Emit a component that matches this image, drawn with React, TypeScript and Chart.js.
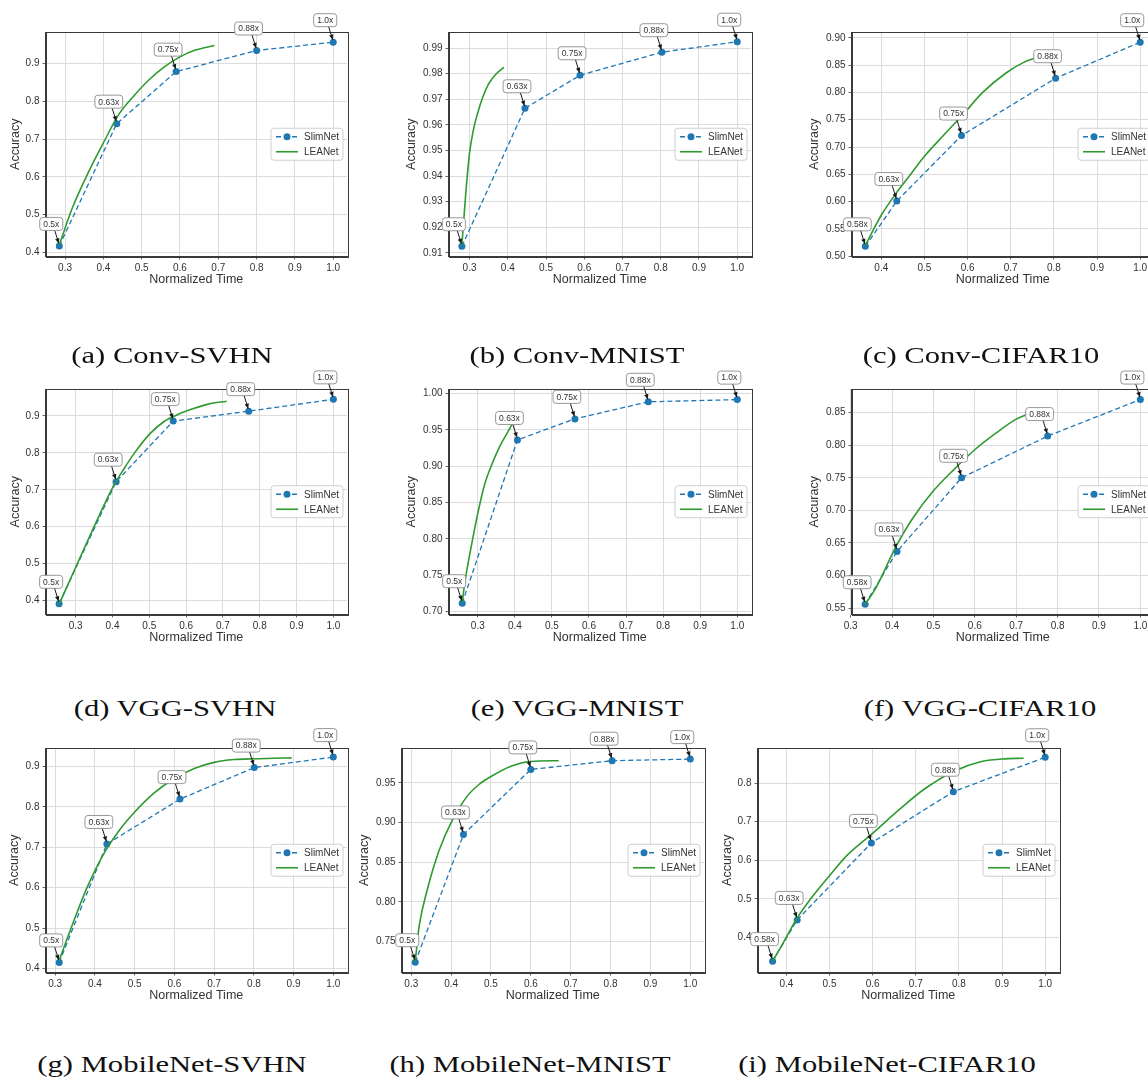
import React, { useEffect, useRef } from 'react';
import { Chart, registerables } from 'chart.js';

Chart.register(...registerables);

// ---------- data ----------
const labelsStd = ['0.5x', '0.63x', '0.75x', '0.88x', '1.0x'];
const labelsCifar = ['0.58x', '0.63x', '0.75x', '0.88x', '1.0x'];
const captions = [
  '(a) Conv-SVHN', '(b) Conv-MNIST', '(c) Conv-CIFAR10',
  '(d) VGG-SVHN', '(e) VGG-MNIST', '(f) VGG-CIFAR10',
  '(g) MobileNet-SVHN', '(h) MobileNet-MNIST', '(i) MobileNet-CIFAR10',
];
const seriesNames = ['SlimNet', 'LEANet'];
const xLabel = 'Normalized Time';
const yLabel = 'Accuracy';

const xTicksFrom03 = [0.3, 0.4, 0.5, 0.6, 0.7, 0.8, 0.9, 1.0];
const xTicksFrom04 = [0.4, 0.5, 0.6, 0.7, 0.8, 0.9, 1.0];
const yTicksTenths = [0.4, 0.5, 0.6, 0.7, 0.8, 0.9];

// (a) Conv-SVHN
const aSlimX = [0.285, 0.435, 0.59, 0.80, 1.0];
const aSlimY = [0.417, 0.741, 0.879, 0.935, 0.957];
const aLeanX = [0.285, 0.32, 0.36, 0.40, 0.44, 0.48, 0.52, 0.56, 0.60, 0.64, 0.69];
const aLeanY = [0.42, 0.52, 0.61, 0.69, 0.765, 0.815, 0.858, 0.892, 0.918, 0.936, 0.948];
// (b) Conv-MNIST
const bSlimX = [0.28, 0.445, 0.589, 0.803, 1.0];
const bSlimY = [0.9126, 0.9665, 0.9794, 0.9884, 0.9925];
const bLeanX = [0.28, 0.285, 0.29, 0.30, 0.31, 0.32, 0.335, 0.35, 0.37, 0.39];
const bLeanY = [0.913, 0.923, 0.933, 0.949, 0.958, 0.964, 0.971, 0.976, 0.980, 0.9825];
const bYTicks = [0.91, 0.92, 0.93, 0.94, 0.95, 0.96, 0.97, 0.98, 0.99];
// (c) Conv-CIFAR10
const cSlimX = [0.363, 0.436, 0.586, 0.804, 1.0];
const cSlimY = [0.518, 0.601, 0.721, 0.826, 0.892];
const cLeanX = [0.363, 0.40, 0.436, 0.47, 0.50, 0.545, 0.59, 0.635, 0.69, 0.73, 0.76];
const cLeanY = [0.52, 0.575, 0.617, 0.652, 0.683, 0.722, 0.76, 0.80, 0.836, 0.855, 0.864];
const cYTicks = [0.5, 0.55, 0.6, 0.65, 0.7, 0.75, 0.8, 0.85, 0.9];
// (d) VGG-SVHN
const dSlimX = [0.255, 0.41, 0.565, 0.77, 1.0];
const dSlimY = [0.391, 0.722, 0.886, 0.913, 0.945];
const dLeanX = [0.255, 0.30, 0.35, 0.40, 0.43, 0.46, 0.50, 0.54, 0.58, 0.62, 0.66, 0.71];
const dLeanY = [0.39, 0.49, 0.60, 0.705, 0.755, 0.80, 0.85, 0.885, 0.905, 0.92, 0.932, 0.94];
// (e) VGG-MNIST
const eSlimX = [0.258, 0.407, 0.562, 0.76, 1.0];
const eSlimY = [0.7115, 0.936, 0.965, 0.9885, 0.9915];
const eLeanX = [0.258, 0.265, 0.278, 0.29, 0.30, 0.318, 0.34, 0.36, 0.38, 0.395];
const eLeanY = [0.712, 0.74, 0.778, 0.81, 0.835, 0.874, 0.905, 0.928, 0.946, 0.96];
const eYTicks = [0.7, 0.75, 0.8, 0.85, 0.9, 0.95, 1.0];
// (f) VGG-CIFAR10
const fSlimX = [0.335, 0.412, 0.568, 0.776, 1.0];
const fSlimY = [0.556, 0.637, 0.750, 0.814, 0.870];
const fLeanX = [0.335, 0.36, 0.41, 0.45, 0.50, 0.55, 0.60, 0.65, 0.70, 0.73];
const fLeanY = [0.556, 0.58, 0.645, 0.688, 0.73, 0.763, 0.793, 0.818, 0.84, 0.848];
const fYTicks = [0.55, 0.6, 0.65, 0.7, 0.75, 0.8, 0.85];
// (g) MobileNet-SVHN
const gSlimX = [0.31, 0.43, 0.614, 0.801, 1.0];
const gSlimY = [0.415, 0.708, 0.819, 0.897, 0.923];
const gLeanX = [0.31, 0.34, 0.38, 0.42, 0.46, 0.50, 0.55, 0.60, 0.65, 0.70, 0.75, 0.80, 0.85, 0.895];
const gLeanY = [0.42, 0.50, 0.60, 0.68, 0.74, 0.787, 0.835, 0.87, 0.895, 0.91, 0.917, 0.919, 0.92, 0.921];
// (h) MobileNet-MNIST
const hSlimX = [0.31, 0.431, 0.60, 0.804, 1.0];
const hSlimY = [0.724, 0.885, 0.967, 0.978, 0.980];
const hLeanX = [0.31, 0.32, 0.34, 0.37, 0.40, 0.44, 0.47, 0.50, 0.55, 0.60, 0.67];
const hLeanY = [0.725, 0.77, 0.815, 0.865, 0.90, 0.933, 0.948, 0.958, 0.971, 0.977, 0.978];
const hYTicks = [0.75, 0.8, 0.85, 0.9, 0.95];
// (i) MobileNet-CIFAR10
const iSlimX = [0.368, 0.425, 0.597, 0.787, 1.0];
const iSlimY = [0.338, 0.445, 0.645, 0.778, 0.8675];
const iLeanX = [0.368, 0.39, 0.425, 0.46, 0.50, 0.54, 0.60, 0.66, 0.72, 0.79, 0.85, 0.90, 0.95];
const iLeanY = [0.338, 0.38, 0.45, 0.505, 0.56, 0.612, 0.67, 0.73, 0.785, 0.832, 0.856, 0.863, 0.865];
const iYTicks = [0.4, 0.5, 0.6, 0.7, 0.8];

// axis ranges [xMin, xMax, yMin, yMax]
const ranges = [
  [0.249, 1.036, 0.389, 0.984],
  [0.245, 1.036, 0.9086, 0.9963],
  [0.331, 1.032, 0.4994, 0.9107],
  [0.218, 1.037, 0.362, 0.973],
  [0.221, 1.037, 0.696, 1.0061],
  [0.302, 1.033, 0.5403, 0.8862],
  [0.2755, 1.0345, 0.39, 0.9455],
  [0.2755, 1.0345, 0.711, 0.994],
  [0.333, 1.032, 0.3085, 0.8915],
];

// ---------- layout ----------
// plot area [left, top, width, height], y-title offset
const plotBoxes = [
  [45, 32, 301, 224], [448, 32, 302, 224], [851, 32, 302, 224],
  [45, 389, 301, 225], [448, 389, 302, 225], [851, 389, 302, 225],
  [45, 748, 301, 224], [401, 748, 302, 224], [757, 748, 301, 224],
];
const yTitleOffsets = [30, 37, 37, 30, 37, 37, 31, 37, 30];
const captionCenters = [172, 577, 981, 175, 577, 980, 172, 530, 887];
const captionBaselines = [363, 363, 363, 716, 716, 716, 1072, 1072, 1072];

const FONT = '"Liberation Sans", Arial, sans-serif';
const TEXT = '#333333';
const BLUE = '#1f77b4';
const GREEN = '#2f9a2f';
const GRID = '#d8d8d8';
const PAD_L = 2, PAD_T = 26, PAD_R = 10, PAD_B = 2;
const X_H = 30.5;
const TITLE_LH = 15;

function rr(ctx: CanvasRenderingContext2D, x: number, y: number, w: number, h: number, r: number) {
  ctx.beginPath();
  ctx.moveTo(x + r, y);
  ctx.lineTo(x + w - r, y);
  ctx.quadraticCurveTo(x + w, y, x + w, y + r);
  ctx.lineTo(x + w, y + h - r);
  ctx.quadraticCurveTo(x + w, y + h, x + w - r, y + h);
  ctx.lineTo(x + r, y + h);
  ctx.quadraticCurveTo(x, y + h, x, y + h - r);
  ctx.lineTo(x, y + r);
  ctx.quadraticCurveTo(x, y, x + r, y);
  ctx.closePath();
}

const framePlugin = {
  id: 'frame',
  afterDatasetsDraw(chart: any) {
    const { ctx, chartArea: a } = chart;
    ctx.save();
    ctx.strokeStyle = '#3a3a3a';
    ctx.lineWidth = 1;
    ctx.strokeRect(Math.round(a.left) + 0.5, Math.round(a.top) + 0.5, Math.round(a.right - a.left), Math.round(a.bottom - a.top));
    ctx.restore();
  },
};

const boxLegendPlugin = {
  id: 'boxLegend',
  afterDraw(chart: any) {
    const { ctx, chartArea: a } = chart;
    const ds = chart.data.datasets;
    const bw = 72, bh = 32;
    const x0 = a.right - 4 - bw;
    const yc = (a.top + a.bottom) / 2;
    ctx.save();
    rr(ctx, x0, yc - bh / 2, bw, bh, 3);
    ctx.fillStyle = 'rgba(255,255,255,0.85)';
    ctx.fill();
    ctx.strokeStyle = '#cfcfcf';
    ctx.lineWidth = 1;
    ctx.stroke();
    ds.forEach((d: any, i: number) => {
      const y = yc + (i === 0 ? -7.5 : 7.5);
      ctx.strokeStyle = d.borderColor;
      ctx.lineWidth = d.borderWidth;
      ctx.setLineDash(d.borderDash || []);
      ctx.beginPath();
      ctx.moveTo(x0 + 5, y);
      ctx.lineTo(x0 + 27, y);
      ctx.stroke();
      ctx.setLineDash([]);
      if (d.pointRadius > 0) {
        ctx.fillStyle = d.pointBackgroundColor;
        ctx.beginPath();
        ctx.arc(x0 + 16, y, d.pointRadius, 0, Math.PI * 2);
        ctx.fill();
      }
      ctx.fillStyle = TEXT;
      ctx.font = `10px ${FONT}`;
      ctx.textBaseline = 'middle';
      ctx.textAlign = 'left';
      ctx.fillText(d.label, x0 + 33, y + 0.5);
    });
    ctx.restore();
  },
};

const annotPlugin = {
  id: 'annot',
  afterDraw(chart: any, _args: any, opts: any) {
    const { ctx } = chart;
    const meta = chart.getDatasetMeta(0);
    const labels: string[] = (opts && opts.labels) || [];
    ctx.save();
    ctx.font = `8.5px ${FONT}`;
    meta.data.forEach((el: any, i: number) => {
      const text = labels[i];
      if (!text) return;
      const px = el.x, py = el.y;
      const bx = px - 8, by = py - 22;
      const tw = ctx.measureText(text).width;
      const bw = tw + 7, bh = 13;
      // arrow
      const ax0 = bx + 2, ay0 = by + 2;
      const ax1 = px - 0.5, ay1 = py - 2.5;
      ctx.strokeStyle = '#1a1a1a';
      ctx.fillStyle = '#1a1a1a';
      ctx.lineWidth = 1;
      ctx.beginPath();
      ctx.moveTo(ax0, ay0);
      ctx.lineTo(ax1, ay1);
      ctx.stroke();
      const ang = Math.atan2(ay1 - ay0, ax1 - ax0);
      const hl = 5, hw = 2.2;
      ctx.beginPath();
      ctx.moveTo(ax1, ay1);
      ctx.lineTo(ax1 - hl * Math.cos(ang) + hw * Math.sin(ang), ay1 - hl * Math.sin(ang) - hw * Math.cos(ang));
      ctx.lineTo(ax1 - hl * Math.cos(ang) - hw * Math.sin(ang), ay1 - hl * Math.sin(ang) + hw * Math.cos(ang));
      ctx.closePath();
      ctx.fill();
      // box
      rr(ctx, bx - bw / 2, by - bh / 2, bw, bh, 3);
      ctx.fillStyle = '#ffffff';
      ctx.fill();
      ctx.strokeStyle = '#8c8c8c';
      ctx.lineWidth = 0.9;
      ctx.stroke();
      ctx.fillStyle = TEXT;
      ctx.textAlign = 'center';
      ctx.textBaseline = 'middle';
      ctx.fillText(text, bx, by + 0.5);
    });
    ctx.restore();
  },
};

type PanelDef = {
  slimX: number[]; slimY: number[]; leanX: number[]; leanY: number[];
  xTicks: number[]; yTicks: number[]; yDec: number; labels: string[];
};

const panels: PanelDef[] = [
  { slimX: aSlimX, slimY: aSlimY, leanX: aLeanX, leanY: aLeanY, xTicks: xTicksFrom03, yTicks: yTicksTenths, yDec: 1, labels: labelsStd },
  { slimX: bSlimX, slimY: bSlimY, leanX: bLeanX, leanY: bLeanY, xTicks: xTicksFrom03, yTicks: bYTicks, yDec: 2, labels: labelsStd },
  { slimX: cSlimX, slimY: cSlimY, leanX: cLeanX, leanY: cLeanY, xTicks: xTicksFrom04, yTicks: cYTicks, yDec: 2, labels: labelsCifar },
  { slimX: dSlimX, slimY: dSlimY, leanX: dLeanX, leanY: dLeanY, xTicks: xTicksFrom03, yTicks: yTicksTenths, yDec: 1, labels: labelsStd },
  { slimX: eSlimX, slimY: eSlimY, leanX: eLeanX, leanY: eLeanY, xTicks: xTicksFrom03, yTicks: eYTicks, yDec: 2, labels: labelsStd },
  { slimX: fSlimX, slimY: fSlimY, leanX: fLeanX, leanY: fLeanY, xTicks: xTicksFrom03, yTicks: fYTicks, yDec: 2, labels: labelsCifar },
  { slimX: gSlimX, slimY: gSlimY, leanX: gLeanX, leanY: gLeanY, xTicks: xTicksFrom03, yTicks: yTicksTenths, yDec: 1, labels: labelsStd },
  { slimX: hSlimX, slimY: hSlimY, leanX: hLeanX, leanY: hLeanY, xTicks: xTicksFrom03, yTicks: hYTicks, yDec: 2, labels: labelsStd },
  { slimX: iSlimX, slimY: iSlimY, leanX: iLeanX, leanY: iLeanY, xTicks: xTicksFrom04, yTicks: iYTicks, yDec: 1, labels: labelsCifar },
];

function ChartPanel({ idx }: { idx: number }) {
  const ref = useRef<HTMLCanvasElement>(null);
  const p = panels[idx];
  const [pl, pt, pw, ph] = plotBoxes[idx];
  const yW = yTitleOffsets[idx] + TITLE_LH / 2;
  const W = Math.round(PAD_L + yW + pw + PAD_R);
  const H = Math.round(PAD_T + ph + X_H + PAD_B);
  const left = pl - yW - PAD_L;
  const top = pt - PAD_T;

  useEffect(() => {
    const [xMin, xMax, yMin, yMax] = ranges[idx];
    const tickFont = { family: FONT, size: 10 };
    const titleFont = { family: FONT, size: 12.5, lineHeight: TITLE_LH / 12.5 };
    const chart = new Chart(ref.current as HTMLCanvasElement, {
      type: 'line',
      data: {
        datasets: [
          {
            label: seriesNames[0],
            data: p.slimX.map((x, i) => ({ x, y: p.slimY[i] })),
            borderColor: BLUE,
            backgroundColor: BLUE,
            borderWidth: 1.3,
            borderDash: [5, 3],
            pointRadius: 3.5,
            pointBackgroundColor: BLUE,
            pointBorderWidth: 0,
            order: 1,
          },
          {
            label: seriesNames[1],
            data: p.leanX.map((x, i) => ({ x, y: p.leanY[i] })),
            borderColor: GREEN,
            backgroundColor: GREEN,
            borderWidth: 1.6,
            pointRadius: 0,
            cubicInterpolationMode: 'monotone',
            order: 0,
          },
        ],
      },
      options: {
        responsive: false,
        animation: false,
        devicePixelRatio: 1,
        layout: { padding: { left: PAD_L, top: PAD_T, right: PAD_R, bottom: PAD_B } },
        plugins: {
          legend: { display: false },
          title: { display: false },
          tooltip: { enabled: false },
          annot: { labels: p.labels },
        } as any,
        scales: {
          x: {
            type: 'linear',
            min: xMin,
            max: xMax,
            afterBuildTicks: (s: any) => { s.ticks = p.xTicks.map((v) => ({ value: v })); },
            afterFit: (s: any) => { s.height = X_H; },
            ticks: {
              autoSkip: false,
              maxRotation: 0,
              font: tickFont,
              color: TEXT,
              padding: 3,
              callback: (v: any) => Number(v).toFixed(1),
            },
            grid: { color: GRID, lineWidth: 0.9, tickLength: 3, tickColor: '#555' },
            border: { display: true, color: '#3a3a3a' },
            title: { display: true, text: xLabel, font: titleFont, color: TEXT, padding: 0 },
          },
          y: {
            type: 'linear',
            min: yMin,
            max: yMax,
            afterBuildTicks: (s: any) => { s.ticks = p.yTicks.map((v) => ({ value: v })); },
            afterFit: (s: any) => { s.width = yW; },
            ticks: {
              autoSkip: false,
              font: tickFont,
              color: TEXT,
              padding: 3,
              callback: (v: any) => Number(v).toFixed(p.yDec),
            },
            grid: { color: GRID, lineWidth: 0.9, tickLength: 3, tickColor: '#555' },
            border: { display: true, color: '#3a3a3a' },
            title: { display: true, text: yLabel, font: titleFont, color: TEXT, padding: 0 },
          },
        },
      } as any,
      plugins: [framePlugin, boxLegendPlugin, annotPlugin] as any,
    });
    return () => chart.destroy();
  }, []);

  return (
    <canvas
      ref={ref}
      width={W}
      height={H}
      style={{ position: 'absolute', left, top, width: W, height: H }}
    />
  );
}

export default function App() {
  return (
    <div
      style={{
        position: 'absolute',
        left: 0,
        top: 0,
        width: 1148,
        height: 1082,
        overflow: 'hidden',
        background: '#ffffff',
      }}
    >
      {panels.map((_, i) => (
        <ChartPanel key={i} idx={i} />
      ))}
      {captions.map((c, i) => (
        <div
          key={'cap' + i}
          style={{
            position: 'absolute',
            left: captionCenters[i] - 200,
            width: 400,
            top: captionBaselines[i] - 19,
            height: 24,
            lineHeight: '23px',
            textAlign: 'center',
            fontFamily: '"Liberation Serif", "DejaVu Serif", serif',
            fontSize: 23,
            color: '#111',
            whiteSpace: 'nowrap',
            transform: 'scaleX(1.33)',
            transformOrigin: 'center',
          }}
        >
          {c}
        </div>
      ))}
    </div>
  );
}
